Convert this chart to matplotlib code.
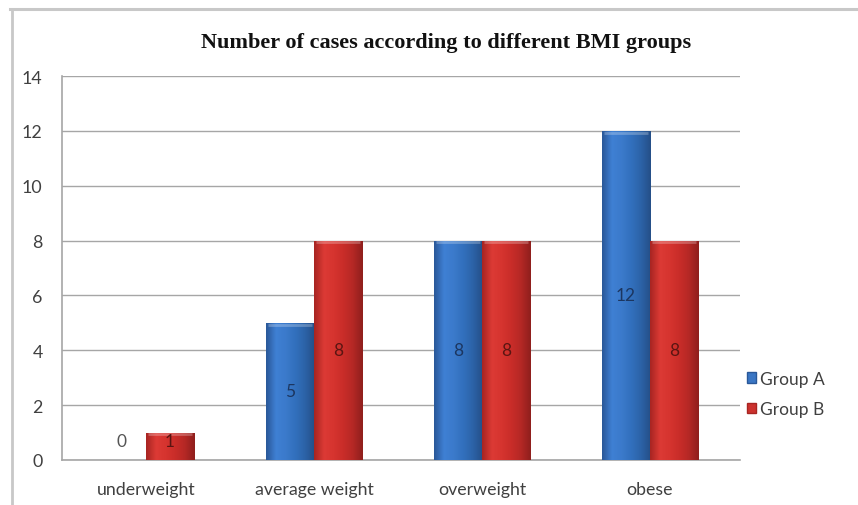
import numpy as np
import matplotlib
matplotlib.use("Agg")
import matplotlib.pyplot as plt
from matplotlib.colors import LinearSegmentedColormap
from matplotlib.lines import Line2D
from matplotlib.patches import Patch

categories = ["underweight", "average weight", "overweight", "obese"]
series_names = ["Group A", "Group B"]
group_a = [0, 5, 8, 12]
group_b = [1, 8, 8, 8]
y_ticks = [0, 2, 4, 6, 8, 10, 12, 14]

title = "Number of cases according to different BMI groups"

# horizontal shading across each bar: dark edge, bright middle, dark edge
blue_shades = ["#2a5899", "#3f80d4", "#3b7acb", "#3270bd", "#2c63a8", "#254f88"]
red_shades = ["#a82522", "#dc3a35", "#d6342f", "#c92d29", "#b52825", "#8f1f1d"]
blue_base = "#3a76c4"
red_base = "#cc322e"
blue_text = "#1c3660"
red_text = "#5a1512"

fig = plt.figure(figsize=(8.58, 5.06), dpi=100)
fig.patch.set_facecolor("white")

ax = fig.add_axes([62 / 858, 1 - 461 / 506, (740 - 62) / 858, (461 - 77) / 506])
ax.set_facecolor("white")

x = np.arange(len(categories))
width = 0.286

def shaded_bars(xpos, vals, base, shades):
    bars = ax.bar(xpos, vals, width, color=base, edgecolor="none", zorder=3)
    cmap = LinearSegmentedColormap.from_list("shade", shades)
    grad = np.linspace(0, 1, 64).reshape(1, -1)
    for b in bars:
        h = b.get_height()
        if h <= 0:
            continue
        x0 = b.get_x()
        im = ax.imshow(grad, cmap=cmap, aspect="auto",
                       extent=(x0, x0 + b.get_width(), 0, h),
                       zorder=3.5, interpolation="bicubic")
        im.set_clip_path(b)
        # lighter rim along the top of each bar
        ax.plot([x0 + 0.01, x0 + b.get_width() - 0.01], [h - 0.06, h - 0.06],
                color="white", alpha=0.25, lw=2, zorder=4, solid_capstyle="butt")
    return bars

shaded_bars(x - width / 2, group_a, blue_base, blue_shades)
shaded_bars(x + width / 2, group_b, red_base, red_shades)

label_font = dict(family=["Lato", "DejaVu Sans"], fontsize=12.5)
for xi, v in zip(x - width / 2, group_a):
    ax.text(xi, max(v / 2, 0.7), str(v), ha="center", va="center",
            color=blue_text if v > 0 else "#555555", zorder=5, **label_font)
for xi, v in zip(x + width / 2, group_b):
    ax.text(xi, max(v / 2, 0.7), str(v), ha="center", va="center",
            color=red_text, zorder=5, **label_font)

ax.set_xlim(-0.5, 3.536)
ax.set_ylim(0, 14)
ax.set_yticks(y_ticks)
ax.set_yticklabels([str(t) for t in y_ticks])
ax.set_xticks(x)
ax.set_xticklabels(categories)
ax.yaxis.grid(True, color="#a6a6a6", lw=1.0, zorder=0)
ax.set_axisbelow(True)
for s in ["top", "right"]:
    ax.spines[s].set_visible(False)
for s in ["left", "bottom"]:
    ax.spines[s].set_color("#a6a6a6")
    ax.spines[s].set_linewidth(1.2)
ax.tick_params(axis="both", length=0, colors="#404040", labelsize=12.8)
ax.tick_params(axis="y", pad=14)
ax.tick_params(axis="x", pad=15)
for lab in ax.get_xticklabels() + ax.get_yticklabels():
    lab.set_family(["Lato", "DejaVu Sans"])

fig.text(446 / 858, 1 - 43 / 506, title, ha="center", va="center",
         family=["Liberation Serif", "DejaVu Serif"], fontweight="bold",
         fontsize=16, color="#111111")

handles = [Patch(facecolor=blue_base, edgecolor="#2a5899"),
           Patch(facecolor=red_base, edgecolor="#a82522")]
leg = fig.legend(handles, series_names, loc="center left",
                 bbox_to_anchor=(740 / 858, 1 - 395 / 506), frameon=False,
                 prop={"family": ["Lato", "DejaVu Sans"], "size": 12.5},
                 handlelength=0.55, handleheight=0.55, handletextpad=0.2,
                 labelspacing=0.85, borderaxespad=0)
for t in leg.get_texts():
    t.set_color("#404040")

# outer chart frame
fig.add_artist(Line2D([10 / 858, 1.0], [1 - 10 / 506, 1 - 10 / 506],
                      transform=fig.transFigure, color="#c8c8c8", lw=2.2))
fig.add_artist(Line2D([12 / 858, 12 / 858], [0, 1 - 10 / 506],
                      transform=fig.transFigure, color="#c8c8c8", lw=2.0))

fig.savefig("out.png", dpi=100, facecolor="white")
